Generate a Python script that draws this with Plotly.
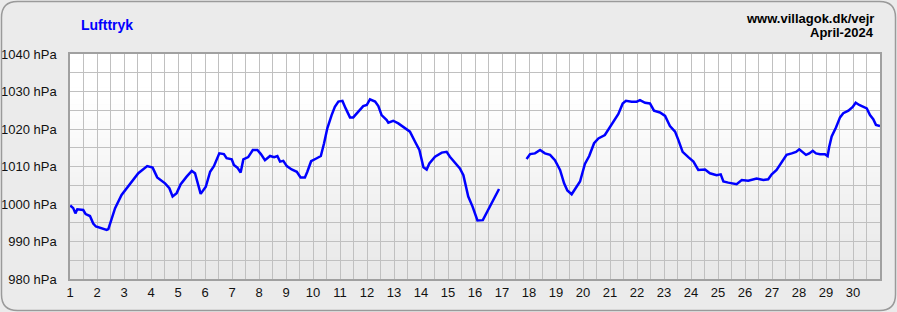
import plotly.graph_objects as go

# ---- data (day of April as fractional day, pressure in hPa) ----
days_a = [1.01, 1.12, 1.20, 1.27, 1.49, 1.58, 1.74, 1.86, 1.96, 2.17, 2.36, 2.42, 2.48, 2.67, 2.91,
          3.10, 3.29, 3.53, 3.86, 4.06, 4.23, 4.52, 4.68, 4.80, 4.95, 5.10, 5.32, 5.51, 5.63, 5.71,
          5.84, 6.03, 6.19, 6.33, 6.53, 6.70, 6.80, 6.99, 7.07, 7.20, 7.32, 7.42, 7.60, 7.77, 7.94,
          8.07, 8.22, 8.41, 8.56, 8.68, 8.78, 8.90, 9.03, 9.21, 9.40, 9.54, 9.70, 9.79, 9.93, 10.14,
          10.29, 10.41, 10.53, 10.69, 10.81, 10.94, 11.09, 11.21, 11.37, 11.49, 11.68, 11.86, 11.99,
          12.11, 12.30, 12.42, 12.54, 12.73, 12.79, 12.97, 13.16, 13.41, 13.59, 13.78, 13.94, 14.09,
          14.21, 14.31, 14.52, 14.77, 14.95, 15.07, 15.32, 15.44, 15.57, 15.75, 15.91, 16.09, 16.29,
          16.49, 16.68, 16.89]
press_a = [999.6, 998.9, 997.5, 998.6, 998.4, 997.3, 996.8, 994.8, 994.0, 993.5, 993.1, 993.3, 994.8,
           998.9, 1002.4, 1004.2, 1006.0, 1008.2, 1010.1, 1009.7, 1007.1, 1005.5, 1004.2, 1002.0,
           1002.9, 1005.3, 1007.3, 1008.8, 1008.2, 1006.0, 1002.7, 1004.6, 1008.6, 1010.1, 1013.5,
           1013.3, 1012.2, 1011.9, 1010.4, 1009.7, 1008.4, 1011.9, 1012.5, 1014.4, 1014.4, 1013.3,
           1011.7, 1012.8, 1012.5, 1012.8, 1011.3, 1011.5, 1010.1, 1009.2, 1008.6, 1007.1, 1007.1,
           1008.6, 1011.4, 1012.2, 1012.8, 1016.2, 1020.2, 1023.7, 1025.9, 1027.3, 1027.5, 1025.5,
           1023.1, 1023.1, 1024.8, 1026.1, 1026.4, 1027.9, 1027.3, 1026.1, 1023.7, 1022.4, 1021.7,
           1022.2, 1021.5, 1020.2, 1019.3, 1016.6, 1014.4, 1009.8, 1009.2, 1010.8, 1012.6, 1013.7,
           1013.9, 1012.6, 1010.4, 1009.5, 1007.7, 1002.0, 999.3, 995.6, 995.7, 998.4, 1001.2, 1004.0]

days_b = [17.91, 18.04, 18.22, 18.41, 18.59, 18.78, 18.96, 19.15, 19.30, 19.42, 19.58, 19.74, 19.89,
          20.07, 20.23, 20.41, 20.57, 20.81, 21.00, 21.15, 21.31, 21.47, 21.59, 21.80, 21.99, 22.11,
          22.30, 22.48, 22.63, 22.85, 23.04, 23.22, 23.41, 23.53, 23.69, 23.90, 24.09, 24.27, 24.52,
          24.70, 24.95, 25.10, 25.20, 25.38, 25.69, 25.88, 26.12, 26.43, 26.68, 26.86, 26.99, 27.17,
          27.36, 27.54, 27.73, 27.89, 28.01, 28.14, 28.26, 28.38, 28.51, 28.63, 28.78, 28.96, 29.06,
          29.12, 29.21, 29.37, 29.52, 29.64, 29.83, 29.99, 30.10, 30.23, 30.38, 30.51, 30.63, 30.75,
          30.85, 31.00]
press_b = [1012.0, 1013.3, 1013.5, 1014.4, 1013.5, 1013.1, 1011.7, 1009.1, 1005.5, 1003.6, 1002.6,
           1004.2, 1006.0, 1010.7, 1012.8, 1016.2, 1017.5, 1018.4, 1020.4, 1022.1, 1024.0, 1026.8,
           1027.5, 1027.3, 1027.3, 1027.7, 1027.0, 1026.8, 1024.9, 1024.4, 1023.5, 1020.8, 1019.3,
           1017.1, 1013.9, 1012.5, 1011.3, 1009.1, 1009.2, 1008.2, 1007.7, 1007.9, 1006.0, 1005.7,
           1005.3, 1006.4, 1006.2, 1006.8, 1006.4, 1006.6, 1007.9, 1009.1, 1011.0, 1013.1, 1013.5,
           1013.9, 1014.6, 1013.9, 1013.1, 1013.5, 1014.2, 1013.5, 1013.3, 1013.3, 1012.8, 1015.3,
           1018.0, 1020.4, 1023.1, 1024.2, 1024.9, 1025.9, 1027.0, 1026.4, 1025.9, 1025.5, 1023.7,
           1022.6, 1021.1, 1020.8]

x_ticks = list(range(1, 31))
y_ticks = [980, 990, 1000, 1010, 1020, 1030, 1040]
y_labels = [f"{v} hPa" for v in y_ticks]

title_text = "Lufttryk"
site_text = "www.villagok.dk/vejr"
month_text = "April-2024"

# ---- figure ----
W, H = 897, 312
L, R, T, B = 70, 880, 54, 279

def px(x):
    return x / W

def py(y):
    return 1 - y / H

fig = go.Figure()
fig.add_trace(go.Scatter(
    x=days_a + [None] + days_b,
    y=press_a + [None] + press_b,
    mode="lines",
    line=dict(color="#0000ff", width=2.5),
    connectgaps=False,
    hoverinfo="x+y",
    showlegend=False,
))

shapes = []
# gradient plot background (white at top fading to light grey at bottom)
n = 40
for i in range(n):
    t0 = i / n
    t1 = (i + 1) / n
    g = (t0 + t1) / 2  # 0 bottom, 1 top
    frac = min(1.0, g / 0.8)
    c = int(232 + (255 - 232) * frac)
    shapes.append(dict(type="rect", xref="x domain", yref="y domain", x0=0, x1=1, y0=t0, y1=t1 + 0.002,
                       fillcolor=f"rgb({c},{c},{c})", line=dict(width=0), layer="below"))

# rounded outer frame
r = 16
x0, y0, x1, y1 = 1.5, 1.5, W - 1.5, H - 1.5
path = (f"M {px(x0 + r)},{py(y0)} L {px(x1 - r)},{py(y0)} Q {px(x1)},{py(y0)} {px(x1)},{py(y0 + r)} "
        f"L {px(x1)},{py(y1 - r)} Q {px(x1)},{py(y1)} {px(x1 - r)},{py(y1)} "
        f"L {px(x0 + r)},{py(y1)} Q {px(x0)},{py(y1)} {px(x0)},{py(y1 - r)} "
        f"L {px(x0)},{py(y0 + r)} Q {px(x0)},{py(y0)} {px(x0 + r)},{py(y0)} Z")
shapes.append(dict(type="path", xref="paper", yref="paper", path=path,
                   line=dict(color="#9a9a9a", width=1.5), fillcolor="rgba(0,0,0,0)", layer="above"))

font_family = "Liberation Sans, Arial, sans-serif"

fig.update_layout(
    width=W, height=H,
    margin=dict(l=0, r=0, t=0, b=0, autoexpand=False),
    paper_bgcolor="#ebebeb",
    plot_bgcolor="rgba(0,0,0,0)",
    font=dict(family=font_family, size=13, color="#111111"),
    shapes=shapes,
    xaxis=dict(
        domain=[px(L), px(R)],
        range=[1, 31],
        automargin=False,
        tickmode="array", tickvals=x_ticks, ticktext=[str(v) for v in x_ticks],
        showgrid=True, gridcolor="#c0c0c0", gridwidth=1,
        minor=dict(dtick=0.5, tick0=1, showgrid=True, gridcolor="#c0c0c0", gridwidth=1),
        showline=True, linecolor="#a0a0a0", linewidth=1.5, mirror=True,
        ticks="outside", ticklen=1, tickcolor="rgba(0,0,0,0)",
        zeroline=False, fixedrange=True,
        tickfont=dict(size=13, color="#111111"),
    ),
    yaxis=dict(
        domain=[py(B), py(T)],
        range=[980, 1040],
        automargin=False,
        tickmode="array", tickvals=y_ticks, ticktext=y_labels,
        showgrid=True, gridcolor="#c0c0c0", gridwidth=1,
        minor=dict(dtick=5, tick0=980, showgrid=True, gridcolor="#c0c0c0", gridwidth=1),
        showline=True, linecolor="#a0a0a0", linewidth=1.5, mirror=True,
        ticks="outside", ticklen=9, tickcolor="rgba(0,0,0,0)",
        zeroline=False, fixedrange=True,
        tickfont=dict(size=13, color="#111111"),
    ),
    annotations=[
        dict(text=f"<b>{title_text}</b>", xref="paper", yref="paper", x=px(79), y=py(25),
             xanchor="left", yanchor="middle", showarrow=False,
             font=dict(family=font_family, size=14, color="#0000ff")),
        dict(text=f"<b>{site_text}</b>", xref="paper", yref="paper", x=px(876), y=py(18),
             xanchor="right", yanchor="middle", showarrow=False,
             font=dict(family=font_family, size=13, color="#000000")),
        dict(text=f"<b>{month_text}</b>", xref="paper", yref="paper", x=px(876), y=py(33),
             xanchor="right", yanchor="middle", showarrow=False,
             font=dict(family=font_family, size=13, color="#000000")),
    ],
)

fig.write_html("out.html")
